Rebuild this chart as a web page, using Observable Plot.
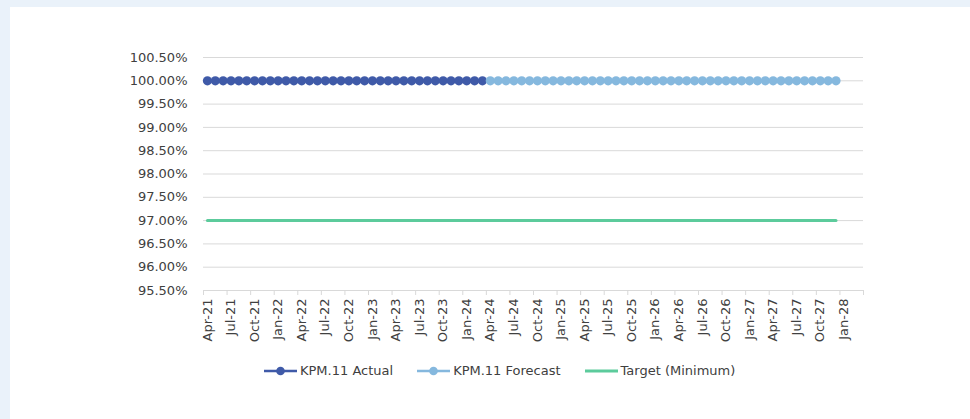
<!DOCTYPE html>
<html><head><meta charset="utf-8">
<script src="https://cdn.jsdelivr.net/npm/d3@7"></script>
<script src="https://cdn.jsdelivr.net/npm/@observablehq/plot@0.6"></script>
<style>
html,body{margin:0;padding:0;}
body{background:#EAF2FA;width:970px;height:419px;overflow:hidden;font-family:"DejaVu Sans",sans-serif;position:relative;}
#frame{position:absolute;left:10px;top:7px;width:960px;height:412px;background:#fff;}
#chart{position:absolute;left:0;top:0;}
#legend{position:absolute;left:254px;top:356px;display:flex;align-items:center;font-size:13px;color:#404040;line-height:16px;white-space:nowrap;}
.item{display:flex;align-items:center;margin-right:24px;}
.item svg{margin-right:3px;}
</style>
</head><body>
<div id="frame"><div id="chart"></div>
<div id="legend"></div></div>
<script>
const months = ["Apr-21","May-21","Jun-21","Jul-21","Aug-21","Sep-21","Oct-21","Nov-21","Dec-21","Jan-22","Feb-22","Mar-22",
"Apr-22","May-22","Jun-22","Jul-22","Aug-22","Sep-22","Oct-22","Nov-22","Dec-22","Jan-23","Feb-23","Mar-23",
"Apr-23","May-23","Jun-23","Jul-23","Aug-23","Sep-23","Oct-23","Nov-23","Dec-23","Jan-24","Feb-24","Mar-24",
"Apr-24","May-24","Jun-24","Jul-24","Aug-24","Sep-24","Oct-24","Nov-24","Dec-24","Jan-25","Feb-25","Mar-25",
"Apr-25","May-25","Jun-25","Jul-25","Aug-25","Sep-25","Oct-25","Nov-25","Dec-25","Jan-26","Feb-26","Mar-26",
"Apr-26","May-26","Jun-26","Jul-26","Aug-26","Sep-26","Oct-26","Nov-26","Dec-26","Jan-27","Feb-27","Mar-27",
"Apr-27","May-27","Jun-27","Jul-27","Aug-27","Sep-27","Oct-27","Nov-27","Dec-27","Jan-28","Feb-28","Mar-28"];

// KPM.11 Actual: Apr-21 .. Mar-24
const actualStart = "Apr-21";
const actualValues = [100,100,100,100,100,100,100,100,100,100,100,100,
100,100,100,100,100,100,100,100,100,100,100,100,
100,100,100,100,100,100,100,100,100,100,100,100];

// KPM.11 Forecast: Apr-24 .. Dec-27
const forecastStart = "Apr-24";
const forecastValues = [100,100,100,100,100,100,100,100,100,100,100,100,
100,100,100,100,100,100,100,100,100,100,100,100,
100,100,100,100,100,100,100,100,100,100,100,100,
100,100,100,100,100,100,100,100,100];

// Target (Minimum): Apr-21 .. Dec-27
const targetStart = "Apr-21";
const targetValues = [97,97,97,97,97,97,97,97,97,97,97,97,
97,97,97,97,97,97,97,97,97,97,97,97,
97,97,97,97,97,97,97,97,97,97,97,97,
97,97,97,97,97,97,97,97,97,97,97,97,
97,97,97,97,97,97,97,97,97,97,97,97,
97,97,97,97,97,97,97,97,97,97,97,97,
97,97,97,97,97,97,97,97,97];

const yTicks = [95.5,96,96.5,97,97.5,98,98.5,99,99.5,100,100.5];

const seriesNames = ["KPM.11 Actual","KPM.11 Forecast","Target (Minimum)"];
const colors = {actual:"#3F5AA8", forecast:"#85B8DE", target:"#5CCB9C"};

const rows = (start, vals) => {
  const s = months.indexOf(start);
  return vals.map((v,k) => ({x: s + k + 0.5, v}));
};
const actual = rows(actualStart, actualValues);
const forecast = rows(forecastStart, forecastValues);
const target = rows(targetStart, targetValues);

const bounds = [];
for (let i = 0; i <= months.length; i += 3) bounds.push(i);
const labelPos = [];
for (let i = 0; i < months.length; i += 3) labelPos.push(i + 0.5);

const chart = Plot.plot({
  width: 960, height: 350,
  marginLeft: 193, marginRight: 107, marginTop: 50, marginBottom: 67,
  style: {fontFamily: "DejaVu Sans", fontSize: "13px", color: "#404040", background: "transparent", overflow: "visible"},
  x: {type: "linear", domain: [0, months.length]},
  y: {domain: [95.5, 100.5]},
  marks: [
    Plot.gridY(yTicks, {stroke: "#D9D9D9", strokeOpacity: 1}),
    Plot.axisY(yTicks, {tickSize: 0, tickPadding: 16, tickFormat: d => d.toFixed(2) + "%", label: null}),
    Plot.ruleY([95.5], {stroke: "#D9D9D9"}),
    Plot.axisX(bounds, {tickSize: 5, tickFormat: () => "", stroke: "#D9D9D9", label: null}),
    Plot.axisX(labelPos, {tickSize: 0, tickPadding: 8, tickRotate: -90, tickFormat: p => months[Math.round(p - 0.5)], label: null}),
    Plot.line(target, {x: "x", y: "v", stroke: colors.target, strokeWidth: 3}),
    Plot.line(actual, {x: "x", y: "v", stroke: colors.actual, strokeWidth: 2.25}),
    Plot.dot(actual, {x: "x", y: "v", r: 4.6, fill: colors.actual}),
    Plot.line(forecast, {x: "x", y: "v", stroke: colors.forecast, strokeWidth: 2.25}),
    Plot.dot(forecast, {x: "x", y: "v", r: 4.6, fill: colors.forecast})
  ]
});
document.getElementById("chart").appendChild(chart);

const legend = document.getElementById("legend");
const legendItems = [
  {name: seriesNames[0], color: colors.actual, dot: true, w: 2.5},
  {name: seriesNames[1], color: colors.forecast, dot: true, w: 2.5},
  {name: seriesNames[2], color: colors.target, dot: false, w: 3}
];
legendItems.forEach(it => {
  const d = document.createElement("div");
  d.className = "item";
  d.innerHTML = `<svg width="33" height="12"><line x1="0" x2="33" y1="6" y2="6" stroke="${it.color}" stroke-width="${it.w}"/>` +
    (it.dot ? `<circle cx="16.5" cy="6" r="4.3" fill="${it.color}"/>` : "") + `</svg><span>${it.name}</span>`;
  legend.appendChild(d);
});
</script>
</body></html>
